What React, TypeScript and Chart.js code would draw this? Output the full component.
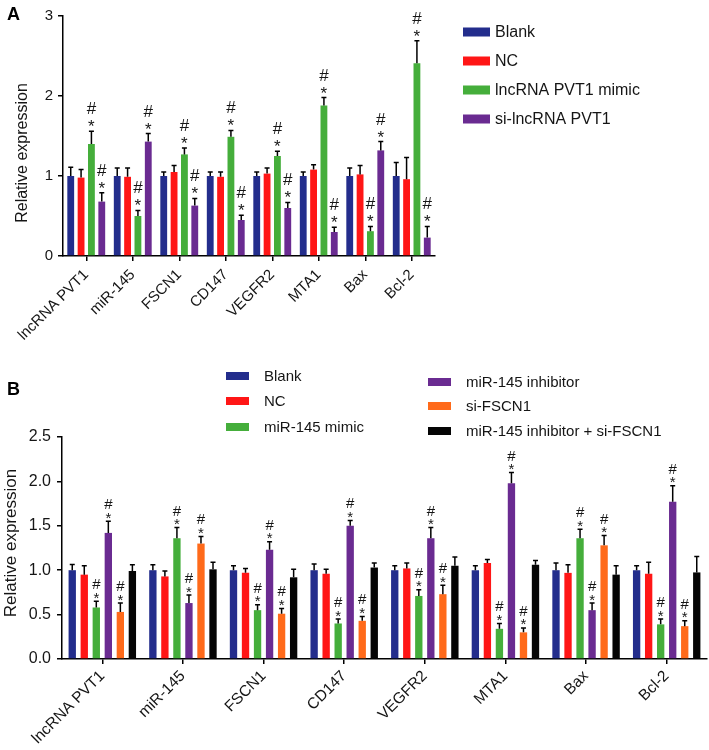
import React, { useEffect, useRef } from "react";
import { Chart, registerables } from "chart.js";
Chart.register(...registerables);

const FONT = "'Liberation Sans', Arial, Helvetica, sans-serif";
const TEXT = "#151515";

const categories = ["lncRNA PVT1", "miR-145", "FSCN1", "CD147", "VEGFR2", "MTA1", "Bax", "Bcl-2"];

// Panel A
const seriesA = ["Blank", "NC", "lncRNA PVT1 mimic", "si-lncRNA PVT1"];
const colorsA = ["#232D8C", "#FF1616", "#45AE3B", "#6A2B91"];
const aBlank = [1.0, 1.0, 1.0, 1.0, 1.0, 1.0, 1.0, 1.0];
const aBlankErr = [0.11, 0.1, 0.05, 0.05, 0.05, 0.05, 0.1, 0.17];
const aNC = [0.98, 0.99, 1.05, 0.99, 1.03, 1.08, 1.02, 0.96];
const aNCErr = [0.1, 0.11, 0.08, 0.06, 0.07, 0.06, 0.11, 0.27];
const aMimic = [1.4, 0.5, 1.27, 1.49, 1.25, 1.88, 0.31, 2.41];
const aMimicErr = [0.16, 0.07, 0.08, 0.08, 0.06, 0.1, 0.06, 0.28];
const aSi = [0.68, 1.43, 0.63, 0.45, 0.6, 0.3, 1.32, 0.23];
const aSiErr = [0.11, 0.1, 0.09, 0.06, 0.07, 0.06, 0.11, 0.14];
const aMarked = [false, false, true, true];
const aTicks = [0, 1, 2, 3];

// Panel B
const seriesB = ["Blank", "NC", "miR-145 mimic", "miR-145 inhibitor", "si-FSCN1", "miR-145 inhibitor + si-FSCN1"];
const colorsB = ["#232D8C", "#FF1616", "#45AE3B", "#6A2B91", "#FF6A1A", "#050505"];
const bBlank = [1.0, 1.0, 1.0, 1.0, 1.0, 1.0, 1.0, 1.0];
const bBlankErr = [0.065, 0.06, 0.05, 0.07, 0.05, 0.05, 0.08, 0.05];
const bNC = [0.95, 0.93, 0.97, 0.96, 1.02, 1.08, 0.97, 0.96];
const bNCErr = [0.1, 0.06, 0.05, 0.05, 0.06, 0.04, 0.09, 0.13];
const bMimic = [0.58, 1.36, 0.55, 0.4, 0.71, 0.34, 1.36, 0.39];
const bMimicErr = [0.07, 0.12, 0.06, 0.05, 0.07, 0.06, 0.1, 0.06];
const bInhib = [1.42, 0.63, 1.23, 1.5, 1.36, 1.98, 0.55, 1.77];
const bInhibErr = [0.13, 0.09, 0.09, 0.06, 0.12, 0.12, 0.08, 0.18];
const bSiF = [0.53, 1.3, 0.51, 0.43, 0.73, 0.3, 1.28, 0.37];
const bSiFErr = [0.1, 0.08, 0.06, 0.05, 0.1, 0.05, 0.11, 0.06];
const bCombo = [0.99, 1.01, 0.92, 1.03, 1.05, 1.06, 0.95, 0.975];
const bComboErr = [0.07, 0.08, 0.09, 0.05, 0.1, 0.05, 0.1, 0.18];
const bMarked = [false, false, true, true, true, false];

type LegendItem = { x: number; y: number; text: string; color: string };

type PanelCfg = {
  letter: string;
  letterY: number;
  titleX: number;
  titleY: number;
  titleSize: number;
  errors: number[][];
  marked: boolean[];
  markSize: number;
  starBase: number;
  hashBase: number;
  cap: number;
  legend: LegendItem[];
  swW: number;
  swH: number;
  textGap: number;
  legendSize: number;
};

function overlay(cfg: PanelCfg) {
  return {
    id: "overlay",
    afterDatasetsDraw(chart: any) {
      const ctx = chart.ctx as CanvasRenderingContext2D;
      const ys = chart.scales.y;
      ctx.save();
      chart.data.datasets.forEach((ds: any, di: number) => {
        const meta = chart.getDatasetMeta(di);
        meta.data.forEach((bar: any, j: number) => {
          const v = ds.data[j] as number;
          const e = cfg.errors[di][j];
          const yb = ys.getPixelForValue(v);
          const yt = ys.getPixelForValue(v + e);
          ctx.strokeStyle = "#000";
          ctx.lineWidth = 1.5;
          ctx.beginPath();
          ctx.moveTo(bar.x, yb);
          ctx.lineTo(bar.x, yt);
          ctx.moveTo(bar.x - cfg.cap / 2, yt);
          ctx.lineTo(bar.x + cfg.cap / 2, yt);
          ctx.stroke();
          if (cfg.marked[di]) {
            ctx.fillStyle = TEXT;
            ctx.textAlign = "center";
            ctx.textBaseline = "alphabetic";
            ctx.font = `${cfg.markSize}px ${FONT}`;
            ctx.fillText("*", bar.x, yt + cfg.starBase);
            ctx.fillText("#", bar.x, yt + cfg.hashBase);
          }
        });
      });
      ctx.restore();
    },
    afterDraw(chart: any) {
      const ctx = chart.ctx as CanvasRenderingContext2D;
      ctx.save();
      // panel letter
      ctx.fillStyle = "#000";
      ctx.font = `bold 18px ${FONT}`;
      ctx.textAlign = "left";
      ctx.textBaseline = "alphabetic";
      ctx.fillText(cfg.letter, 7, cfg.letterY);
      // y title
      ctx.save();
      ctx.translate(cfg.titleX, cfg.titleY);
      ctx.rotate(-Math.PI / 2);
      ctx.fillStyle = TEXT;
      ctx.font = `${cfg.titleSize}px ${FONT}`;
      ctx.textAlign = "center";
      ctx.fillText("Relative expression", 0, 0);
      ctx.restore();
      // legend
      ctx.font = `${cfg.legendSize}px ${FONT}`;
      ctx.textBaseline = "middle";
      ctx.textAlign = "left";
      cfg.legend.forEach((it) => {
        ctx.fillStyle = it.color;
        ctx.fillRect(it.x, it.y - cfg.swH / 2, cfg.swW, cfg.swH);
        ctx.fillStyle = TEXT;
        ctx.fillText(it.text, it.x + cfg.swW + cfg.textGap, it.y + 0.5);
      });
      ctx.restore();
    },
  };
}

function makeScales(opts: {
  max: number;
  step: number;
  yWidth: number;
  xHeight: number;
  tickSize: number;
  xSize: number;
  xPad: number;
  yPad: number;
  decimals: number;
}) {
  const axisCol = "#000";
  return {
    x: {
      grid: { offset: false, drawOnChartArea: false, color: axisCol, lineWidth: 1.5, tickLength: 5 },
      border: { color: axisCol, width: 1.5 },
      ticks: {
        font: { family: FONT, size: opts.xSize },
        color: TEXT,
        minRotation: 45,
        maxRotation: 45,
        autoSkip: false,
        padding: opts.xPad,
      },
      afterFit(s: any) {
        s.height = opts.xHeight;
      },
    },
    y: {
      min: 0,
      max: opts.max,
      grid: { drawOnChartArea: false, color: axisCol, lineWidth: 1.5, tickLength: 5 },
      border: { color: axisCol, width: 1.5 },
      ticks: {
        stepSize: opts.step,
        font: { family: FONT, size: opts.tickSize },
        color: TEXT,
        padding: opts.yPad,
        callback: (v: any) => Number(v).toFixed(opts.decimals),
      },
      afterFit(s: any) {
        s.width = opts.yWidth;
      },
    },
  };
}

function PanelA() {
  const ref = useRef<HTMLCanvasElement>(null);
  useEffect(() => {
    const vals = [aBlank, aNC, aMimic, aSi];
    const errs = [aBlankErr, aNCErr, aMimicErr, aSiErr];
    const legendRows = [32, 61, 90, 119];
    const chart = new Chart(ref.current as HTMLCanvasElement, {
      type: "bar",
      data: {
        labels: categories,
        datasets: seriesA.map((name, i) => ({
          label: name,
          data: vals[i],
          backgroundColor: colorsA[i],
          categoryPercentage: 0.89,
          barPercentage: 0.66,
        })),
      },
      options: {
        responsive: false,
        animation: false,
        layout: { padding: { left: 0, top: 16, right: 274, bottom: 0 } },
        plugins: { legend: { display: false }, tooltip: { enabled: false } },
        scales: makeScales({
          max: aTicks[aTicks.length - 1],
          step: 1,
          yWidth: 63,
          xHeight: 104,
          tickSize: 15,
          xSize: 15,
          xPad: 5,
          yPad: 5,
          decimals: 0,
        }) as any,
      },
      plugins: [
        overlay({
          letter: "A",
          letterY: 20,
          titleX: 27,
          titleY: 153,
          titleSize: 16,
          errors: errs,
          marked: aMarked,
          markSize: 17,
          starBase: 1,
          hashBase: -17,
          cap: 5,
          legend: seriesA.map((t, i) => ({ x: 463, y: legendRows[i], text: t, color: colorsA[i] })),
          swW: 27,
          swH: 9,
          textGap: 5,
          legendSize: 16,
        }),
      ],
    });
    return () => chart.destroy();
  }, []);
  return <canvas ref={ref} width={709} height={360} style={{ position: "absolute", left: 0, top: 0, display: "block" }} />;
}

function PanelB() {
  const ref = useRef<HTMLCanvasElement>(null);
  useEffect(() => {
    const vals = [bBlank, bNC, bMimic, bInhib, bSiF, bCombo];
    const errs = [bBlankErr, bNCErr, bMimicErr, bInhibErr, bSiFErr, bComboErr];
    const col1Rows = [16, 41, 67];
    const col2Rows = [22, 46, 71];
    const legend: LegendItem[] = seriesB.map((t, i) =>
      i < 3
        ? { x: 226, y: col1Rows[i], text: t, color: colorsB[i] }
        : { x: 428, y: col2Rows[i - 3], text: t, color: colorsB[i] }
    );
    const chart = new Chart(ref.current as HTMLCanvasElement, {
      type: "bar",
      data: {
        labels: categories,
        datasets: seriesB.map((name, i) => ({
          label: name,
          data: vals[i],
          backgroundColor: colorsB[i],
          categoryPercentage: 0.895,
          barPercentage: 0.61,
        })),
      },
      options: {
        responsive: false,
        animation: false,
        layout: { padding: { left: 0, top: 77, right: 2, bottom: 0 } },
        plugins: { legend: { display: false }, tooltip: { enabled: false } },
        scales: makeScales({
          max: 2.5,
          step: 0.5,
          yWidth: 62,
          xHeight: 91,
          tickSize: 16,
          xSize: 15.5,
          xPad: 3,
          yPad: 6,
          decimals: 1,
        }) as any,
      },
      plugins: [
        overlay({
          letter: "B",
          letterY: 35,
          titleX: 16,
          titleY: 183,
          titleSize: 17,
          errors: errs,
          marked: bMarked,
          markSize: 15,
          starBase: 1.5,
          hashBase: -12,
          cap: 5,
          legend,
          swW: 23,
          swH: 8,
          textGap: 15,
          legendSize: 15,
        }),
      ],
    });
    return () => chart.destroy();
  }, []);
  return <canvas ref={ref} width={709} height={390} style={{ position: "absolute", left: 0, top: 360, display: "block" }} />;
}

export default function App() {
  return (
    <div style={{ position: "absolute", left: 0, top: 0, width: 709, height: 750, background: "#fff", overflow: "hidden" }}>
      <PanelA />
      <PanelB />
    </div>
  );
}
